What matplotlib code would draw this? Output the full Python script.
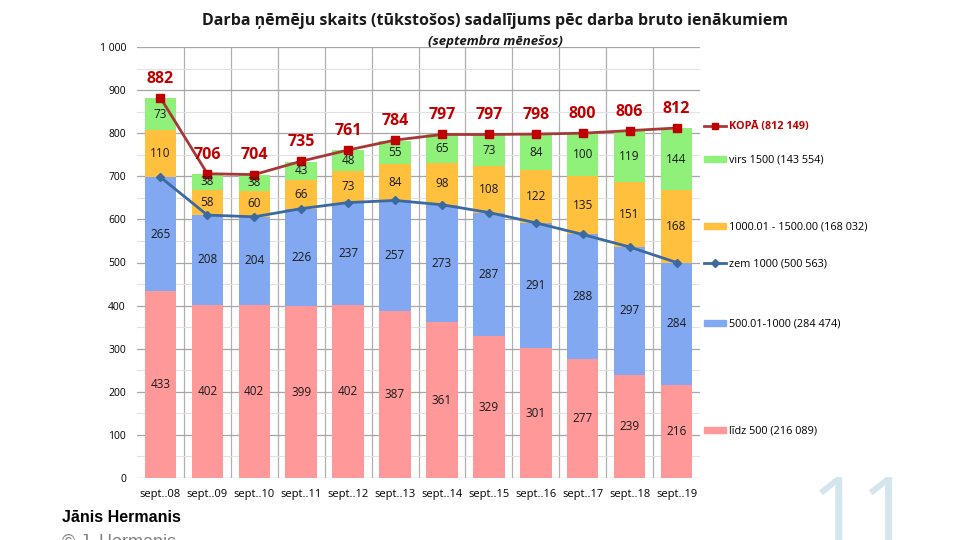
import matplotlib
matplotlib.use("Agg")
import matplotlib.pyplot as plt
from matplotlib.lines import Line2D
from matplotlib.patches import Patch
import numpy as np

categories = ["sept..08", "sept..09", "sept..10", "sept..11", "sept..12", "sept..13",
              "sept..14", "sept..15", "sept..16", "sept..17", "sept..18", "sept..19"]
lidz500 = [433, 402, 402, 399, 402, 387, 361, 329, 301, 277, 239, 216]
s500_1000 = [265, 208, 204, 226, 237, 257, 273, 287, 291, 288, 297, 284]
s1000_1500 = [110, 58, 60, 66, 73, 84, 98, 108, 122, 135, 151, 168]
virs1500 = [73, 38, 38, 43, 48, 55, 65, 73, 84, 100, 119, 144]
kopa = [882, 706, 704, 735, 761, 784, 797, 797, 798, 800, 806, 812]
zem1000 = [698, 610, 606, 625, 639, 644, 634, 616, 592, 565, 536, 500]
yticks = [0, 100, 200, 300, 400, 500, 600, 700, 800, 900, 1000]
ytick_labels = ["0", "100", "200", "300", "400", "500", "600", "700", "800", "900", "1 000"]

legend_labels = ["KOPĀ (812 149)", "virs 1500 (143 554)", "1000.01 - 1500.00 (168 032)",
                 "zem 1000 (500 563)", "500.01-1000 (284 474)", "līdz 500 (216 089)"]

c_pink = "#ff9999"
c_blue = "#82a8f2"
c_orange = "#ffc03d"
c_green = "#8ff07a"
c_red = "#c00000"
c_redline = "#a83838"
c_blueline = "#3a6aa0"

plt.rcParams['font.family'] = ['Open Sans', 'DejaVu Sans']

fig = plt.figure(figsize=(9.6, 5.4), dpi=100)
fig.patch.set_facecolor("white")
ax = fig.add_axes([137/960, 1 - 478/540, (700-137)/960, (478-47)/540])

x = np.arange(len(categories))
w = 0.67
series = [lidz500, s500_1000, s1000_1500, virs1500]
colors = [c_pink, c_blue, c_orange, c_green]
bottom = np.zeros(len(categories))
for vals, col in zip(series, colors):
    vals = np.array(vals, dtype=float)
    ax.bar(x, vals, w, bottom=bottom, color=col, zorder=2)
    for xi, b, v in zip(x, bottom, vals):
        ax.text(xi, b + v / 2, f"{int(v)}", ha="center", va="center",
                fontsize=8.5, color="#1a1a1a", zorder=5)
    bottom += vals

ax.plot(x, zem1000, color=c_blueline, lw=2, marker="D", ms=4,
        markerfacecolor=c_blueline, zorder=4)
ax.plot(x, kopa, color=c_redline, lw=2, marker="s", ms=6,
        markerfacecolor=c_red, markeredgecolor=c_red, zorder=4)
for xi, v in zip(x, kopa):
    ax.annotate(f"{v}", (xi, v), xytext=(0, 8), textcoords="offset points",
                ha="center", va="bottom", fontsize=11.5, fontweight="bold",
                color=c_red, zorder=6)

ax.set_xlim(-0.5, len(categories) - 0.5)
ax.set_ylim(0, 1000)
ax.set_yticks(yticks)
ax.set_yticklabels(ytick_labels, fontsize=7.5)
ax.set_yticks(np.arange(50, 1000, 100), minor=True)
ax.set_xticks(x)
ax.set_xticklabels(categories, fontsize=8)
ax.tick_params(axis="both", length=0, pad=8)
ax.tick_params(axis="y", which="minor", length=0)
for s in ax.spines.values():
    s.set_visible(False)
ax.grid(axis="y", which="major", color="#a6a6a6", lw=0.9, zorder=0)
ax.grid(axis="y", which="minor", color="#e2e2e2", lw=0.8, zorder=0)
for b in np.arange(0.5, len(categories) - 0.5, 1):
    ax.axvline(b, color="#b0b0b0", lw=0.9, zorder=0)
ax.set_axisbelow(True)

# Legend entries placed alongside the chart
handles = [
    Line2D([], [], color=c_redline, lw=2, marker="s", ms=5, markerfacecolor=c_red, markeredgecolor=c_red),
    Patch(color=c_green),
    Patch(color=c_orange),
    Line2D([], [], color=c_blueline, lw=2, marker="D", ms=4),
    Patch(color=c_blue),
    Patch(color=c_pink),
]
ys = [127, 160, 227, 264, 324, 431]
for h, lab, yy in zip(handles, legend_labels, ys):
    leg = fig.legend([h], [lab], loc="center left",
                     bbox_to_anchor=(702/960, 1 - yy/540), frameon=False,
                     fontsize=7.8, handlelength=2.0, handleheight=0.5,
                     handletextpad=0.3, borderaxespad=0, borderpad=0.2)
    if lab.startswith("KOPĀ"):
        for t in leg.get_texts():
            t.set_color(c_red)
            t.set_fontweight("bold")

fig.text(495/960, 1 - 21/540, "Darba ņēmēju skaits (tūkstošos) sadalījums pēc darba bruto ienākumiem",
         ha="center", va="center", fontsize=11.5, fontweight="bold", color="#1a1a1a")
fig.text(495/960, 1 - 42/540, "(septembra mēnešos)", ha="center", va="center",
         fontsize=9.5, fontweight="bold", fontstyle="italic", color="#1a1a1a")

fig.text(62/960, 1 - 518/540, "Jānis Hermanis", ha="left", va="center",
         fontsize=11.5, fontweight="bold", family=["Liberation Sans", "DejaVu Sans"], color="black")
fig.text(62/960, 1 - 542/540, "© J. Hermanis", ha="left", va="center",
         fontsize=13, family=["Liberation Sans", "DejaVu Sans"], color="#808080")
fig.text(862/960, 1 - 518/540, "11", ha="center", va="center",
         fontsize=64, fontweight="normal", family=["Open Sans", "DejaVu Sans"],
         color="#d3e6ee")

fig.savefig("out.png", dpi=100, facecolor="white")
